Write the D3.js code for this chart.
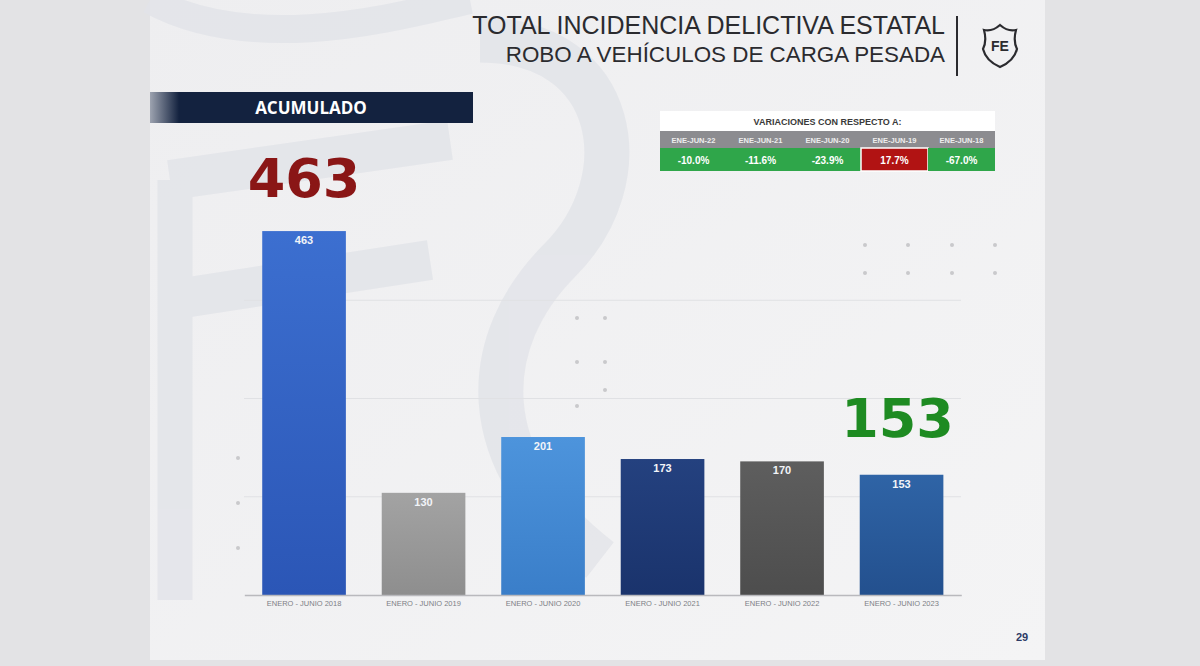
<!DOCTYPE html>
<html>
<head>
<meta charset="utf-8">
<script src="https://cdn.jsdelivr.net/npm/d3@7"></script>
<style>
  html, body { margin: 0; padding: 0; background: #e3e3e5; }
  svg { display: block; font-family: "Liberation Sans", Arial, sans-serif; }
</style>
</head>
<body>
<div id="chart"></div>
<script>
// periods and values
const periods = ["ENERO - JUNIO 2018", "ENERO - JUNIO 2019", "ENERO - JUNIO 2020",
                 "ENERO - JUNIO 2021", "ENERO - JUNIO 2022", "ENERO - JUNIO 2023"];
const values = [463, 130, 201, 173, 170, 153];
const barColors = [["#3c6fd0", "#2b56b6"], ["#a3a3a3", "#8e8e8e"], ["#4d94dc", "#3a7ec9"],
                   ["#24417f", "#1a336c"], ["#5e5e5e", "#4d4d4d"], ["#2f64a6", "#23508e"]];
const gridTicks = [125, 250, 375];

// variations table
const varLabels = ["ENE-JUN-22", "ENE-JUN-21", "ENE-JUN-20", "ENE-JUN-19", "ENE-JUN-18"];
const varValues = ["-10.0%", "-11.6%", "-23.9%", "17.7%", "-67.0%"];
const varUp = [false, false, false, true, false];

const W = 1200, H = 666;
const svg = d3.select("#chart").append("svg")
    .attr("width", W).attr("height", H);
const defs = svg.append("defs");

// slide background
svg.append("rect").attr("width", W).attr("height", H).attr("fill", "#e3e3e5");
const bg = defs.append("linearGradient").attr("id", "slidebg")
    .attr("x1", 0).attr("y1", 0).attr("x2", 1).attr("y2", 1);
bg.append("stop").attr("offset", 0).attr("stop-color", "#eeeef0");
bg.append("stop").attr("offset", 1).attr("stop-color", "#f4f4f5");
svg.append("rect").attr("x", 150).attr("y", 0).attr("width", 895).attr("height", 660)
    .attr("fill", "url(#slidebg)");

// faint watermark shapes
const wm = svg.append("g").attr("fill", "none").attr("stroke", "#e2e4e9").attr("opacity", 0.8);
wm.append("path").attr("d", "M150,0 C260,60 420,10 470,0").attr("stroke-width", 28);
wm.append("path").attr("d", "M480,40 C620,40 640,180 560,260 C480,340 470,460 600,560")
    .attr("stroke-width", 45);
wm.append("path").attr("d", "M170,180 L450,140").attr("stroke-width", 40);
wm.append("path").attr("d", "M170,300 L430,260").attr("stroke-width", 40);
wm.append("path").attr("d", "M175,180 L175,600").attr("stroke-width", 35);

// decorative dots
const dotG = svg.append("g").attr("fill", "#c9c9cc");
[[865, 245], [908, 245], [952, 245], [995, 245], [865, 273], [908, 273], [952, 273], [995, 273],
 [577, 318], [605, 318], [577, 362], [605, 362], [577, 406], [605, 390], [238, 458], [238, 503], [238, 548]]
  .forEach(p => dotG.append("circle").attr("cx", p[0]).attr("cy", p[1]).attr("r", 2));

// scales
const x = d3.scaleBand().domain(periods).range([244.3, 961.3])
    .paddingInner(0.3).paddingOuter(0.15);
const y = d3.scaleLinear().domain([0, 500]).range([595, 202]);

// gridlines
svg.append("g").selectAll("line").data(gridTicks).join("line")
    .attr("x1", 244).attr("x2", 961)
    .attr("y1", d => y(d)).attr("y2", d => y(d))
    .attr("stroke", "#e0e1e4").attr("stroke-width", 1);

// gradients for bars
barColors.forEach((c, i) => {
  const g = defs.append("linearGradient").attr("id", "bar" + i)
      .attr("x1", 0).attr("y1", 0).attr("x2", 0).attr("y2", 1);
  g.append("stop").attr("offset", 0).attr("stop-color", c[0]);
  g.append("stop").attr("offset", 1).attr("stop-color", c[1]);
});

// bars
svg.append("g").selectAll("rect").data(values).join("rect")
    .attr("x", (d, i) => x(periods[i]))
    .attr("y", d => y(d))
    .attr("width", x.bandwidth())
    .attr("height", d => y(0) - y(d))
    .attr("fill", (d, i) => `url(#bar${i})`);

// value labels
svg.append("g").selectAll("text").data(values).join("text")
    .attr("x", (d, i) => x(periods[i]) + x.bandwidth() / 2)
    .attr("y", d => y(d) + 13)
    .attr("text-anchor", "middle")
    .attr("font-size", 11).attr("font-weight", "bold")
    .attr("fill", "#f2f4f8")
    .text(d => d);

// axis
const xAxis = svg.append("g").attr("transform", `translate(0,${y(0)})`)
    .call(d3.axisBottom(x).tickSize(0).tickPadding(6));
xAxis.select(".domain").attr("stroke", "#b9b9bd").attr("stroke-width", 1.5);
xAxis.selectAll("text").attr("font-size", 7.5).attr("fill", "#7d7f86")
    .attr("font-family", "'Liberation Sans', Arial, sans-serif");

// big highlight numbers
svg.append("text").attr("x", x(periods[0]) + x.bandwidth() / 2).attr("y", 197)
    .attr("text-anchor", "middle").attr("font-size", 54).attr("font-weight", "bold")
    .attr("font-family", "'DejaVu Sans', sans-serif")
    .attr("fill", "#8a1616").text(values[0]);
svg.append("text").attr("x", x(periods[5]) + x.bandwidth() / 2 - 4).attr("y", 437)
    .attr("text-anchor", "middle").attr("font-size", 54).attr("font-weight", "bold")
    .attr("font-family", "'DejaVu Sans', sans-serif")
    .attr("fill", "#1e8b22").text(values[5]);

// ACUMULADO banner
const ban = defs.append("linearGradient").attr("id", "ban").attr("x1", 0).attr("x2", 1);
ban.append("stop").attr("offset", 0).attr("stop-color", "#9da3b0");
ban.append("stop").attr("offset", 0.09).attr("stop-color", "#13223f");
ban.append("stop").attr("offset", 1).attr("stop-color", "#13223f");
svg.append("rect").attr("x", 150).attr("y", 92).attr("width", 323).attr("height", 31)
    .attr("fill", "url(#ban)");
svg.append("text").attr("x", 311).attr("y", 114).attr("text-anchor", "middle")
    .attr("font-size", 17).attr("font-weight", "bold").attr("fill", "#ffffff")
    .attr("font-family", "'Open Sans', sans-serif").text("ACUMULADO");

// title
svg.append("text").attr("x", 945).attr("y", 34).attr("text-anchor", "end")
    .attr("font-size", 25).attr("fill", "#2b2b2f").text("TOTAL INCIDENCIA DELICTIVA ESTATAL");
svg.append("text").attr("x", 945).attr("y", 62).attr("text-anchor", "end")
    .attr("font-size", 22.4).attr("fill", "#2b2b2f").text("ROBO A VEHÍCULOS DE CARGA PESADA");
svg.append("line").attr("x1", 957).attr("x2", 957).attr("y1", 16).attr("y2", 76)
    .attr("stroke", "#2b2b2f").attr("stroke-width", 2);

// shield logo
const logo = svg.append("g").attr("transform", "translate(1000,45)");
logo.append("path")
    .attr("d", "M-16,-15 Q-8,-13 0,-20 Q8,-13 16,-15 Q13,-4 17,4 Q14,16 0,22 Q-14,16 -17,4 Q-13,-4 -16,-15 Z")
    .attr("fill", "none").attr("stroke", "#2b2b2f").attr("stroke-width", 2.2);
logo.append("text").attr("y", 6).attr("text-anchor", "middle").attr("font-size", 14)
    .attr("font-weight", "bold").attr("fill", "#2b2b2f").text("FE");

// variations table
const tx = 660, tw = 335, cw = tw / varLabels.length;
const tbl = svg.append("g");
tbl.append("rect").attr("x", tx).attr("y", 111).attr("width", tw).attr("height", 20).attr("fill", "#ffffff");
tbl.append("text").attr("x", tx + tw / 2).attr("y", 124.5).attr("text-anchor", "middle")
    .attr("font-size", 9).attr("font-weight", "bold").attr("fill", "#3a3a3a")
    .text("VARIACIONES CON RESPECTO A:");
tbl.append("rect").attr("x", tx).attr("y", 131).attr("width", tw).attr("height", 17).attr("fill", "#8c8c90");
tbl.selectAll(".lab").data(varLabels).join("text").attr("class", "lab")
    .attr("x", (d, i) => tx + cw * i + cw / 2).attr("y", 143)
    .attr("text-anchor", "middle").attr("font-size", 7.5).attr("font-weight", "bold")
    .attr("fill", "#eeeeee").text(d => d);
tbl.selectAll(".cell").data(varValues).join("rect").attr("class", "cell")
    .attr("x", (d, i) => tx + cw * i).attr("y", 148).attr("width", cw).attr("height", 23)
    .attr("fill", (d, i) => varUp[i] ? "#b11313" : "#2fa64a")
    .attr("stroke", "#ffffff").attr("stroke-width", (d, i) => varUp[i] ? 1.5 : 0);
tbl.selectAll(".val").data(varValues).join("text").attr("class", "val")
    .attr("x", (d, i) => tx + cw * i + cw / 2).attr("y", 163.5)
    .attr("text-anchor", "middle").attr("font-size", 10).attr("font-weight", "bold")
    .attr("fill", "#ffffff").text(d => d);

// page number
svg.append("text").attr("x", 1022).attr("y", 641).attr("text-anchor", "middle")
    .attr("font-size", 11).attr("font-weight", "bold").attr("fill", "#2c3a66").text("29");
</script>
</body>
</html>
